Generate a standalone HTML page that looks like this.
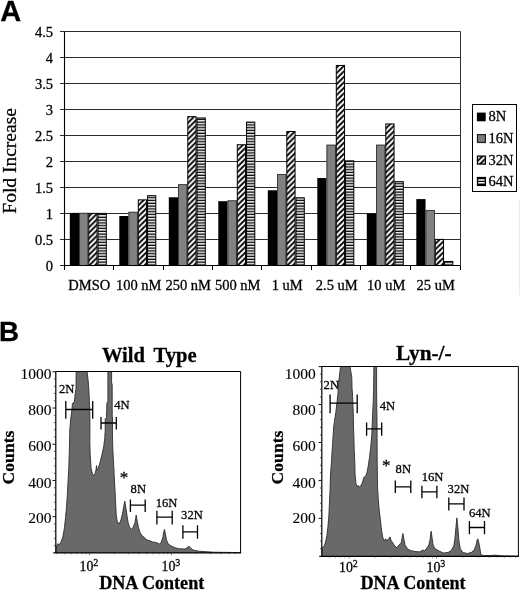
<!DOCTYPE html>
<html><head><meta charset="utf-8"><title>Figure</title>
<style>html,body{margin:0;padding:0;background:#fff}svg{display:block;will-change:transform} text{stroke:#000;stroke-width:0.28px} text.tl{stroke-width:0.12px}</style>
</head><body>
<svg width="520" height="592" viewBox="0 0 520 592">
<defs>
<pattern id="diag" patternUnits="userSpaceOnUse" width="5.5" height="5.5">
<rect width="5.5" height="5.5" fill="#000"/>
<path d="M-1,6.5 L6.5,-1 M-1,1 L1,-1 M4.5,6.5 L6.5,4.5" stroke="#fff" stroke-width="2.1"/>
</pattern>
<pattern id="hor" patternUnits="userSpaceOnUse" width="3" height="2.8" y="265.5" >
<rect width="3" height="2.8" fill="#000"/>
<rect y="0.05" width="3" height="1.45" fill="#fff"/>
</pattern>
</defs>
<rect width="520" height="592" fill="#fff"/>
<text x="0.3" y="21.3" font-family='"Liberation Sans", sans-serif' font-weight="bold" font-size="29">A</text>
<line x1="60.0" y1="265.50" x2="64.5" y2="265.50" stroke="#2e2e2e" stroke-width="1"/>
<text x="53" y="271.20" text-anchor="end" font-family='"Liberation Serif", serif' font-size="14.5">0</text>
<line x1="64.5" y1="239.50" x2="460.5" y2="239.50" stroke="#2e2e2e" stroke-width="1"/>
<line x1="60.0" y1="239.50" x2="64.5" y2="239.50" stroke="#2e2e2e" stroke-width="1"/>
<text x="53" y="245.20" text-anchor="end" font-family='"Liberation Serif", serif' font-size="14.5">0.5</text>
<line x1="64.5" y1="213.50" x2="460.5" y2="213.50" stroke="#2e2e2e" stroke-width="1"/>
<line x1="60.0" y1="213.50" x2="64.5" y2="213.50" stroke="#2e2e2e" stroke-width="1"/>
<text x="53" y="219.20" text-anchor="end" font-family='"Liberation Serif", serif' font-size="14.5">1</text>
<line x1="64.5" y1="187.50" x2="460.5" y2="187.50" stroke="#2e2e2e" stroke-width="1"/>
<line x1="60.0" y1="187.50" x2="64.5" y2="187.50" stroke="#2e2e2e" stroke-width="1"/>
<text x="53" y="193.20" text-anchor="end" font-family='"Liberation Serif", serif' font-size="14.5">1.5</text>
<line x1="64.5" y1="161.50" x2="460.5" y2="161.50" stroke="#2e2e2e" stroke-width="1"/>
<line x1="60.0" y1="161.50" x2="64.5" y2="161.50" stroke="#2e2e2e" stroke-width="1"/>
<text x="53" y="167.20" text-anchor="end" font-family='"Liberation Serif", serif' font-size="14.5">2</text>
<line x1="64.5" y1="135.50" x2="460.5" y2="135.50" stroke="#2e2e2e" stroke-width="1"/>
<line x1="60.0" y1="135.50" x2="64.5" y2="135.50" stroke="#2e2e2e" stroke-width="1"/>
<text x="53" y="141.20" text-anchor="end" font-family='"Liberation Serif", serif' font-size="14.5">2.5</text>
<line x1="64.5" y1="109.50" x2="460.5" y2="109.50" stroke="#2e2e2e" stroke-width="1"/>
<line x1="60.0" y1="109.50" x2="64.5" y2="109.50" stroke="#2e2e2e" stroke-width="1"/>
<text x="53" y="115.20" text-anchor="end" font-family='"Liberation Serif", serif' font-size="14.5">3</text>
<line x1="64.5" y1="83.50" x2="460.5" y2="83.50" stroke="#2e2e2e" stroke-width="1"/>
<line x1="60.0" y1="83.50" x2="64.5" y2="83.50" stroke="#2e2e2e" stroke-width="1"/>
<text x="53" y="89.20" text-anchor="end" font-family='"Liberation Serif", serif' font-size="14.5">3.5</text>
<line x1="64.5" y1="57.50" x2="460.5" y2="57.50" stroke="#2e2e2e" stroke-width="1"/>
<line x1="60.0" y1="57.50" x2="64.5" y2="57.50" stroke="#2e2e2e" stroke-width="1"/>
<text x="53" y="63.20" text-anchor="end" font-family='"Liberation Serif", serif' font-size="14.5">4</text>
<line x1="64.5" y1="31.50" x2="460.5" y2="31.50" stroke="#2e2e2e" stroke-width="1"/>
<line x1="60.0" y1="31.50" x2="64.5" y2="31.50" stroke="#2e2e2e" stroke-width="1"/>
<text x="53" y="37.20" text-anchor="end" font-family='"Liberation Serif", serif' font-size="14.5">4.5</text>
<line x1="460.5" y1="31.5" x2="460.5" y2="265.5" stroke="#333" stroke-width="1"/>
<rect x="69.80" y="212.88" width="9.25" height="52.62" fill="#000"/>
<rect x="79.05" y="212.88" width="9.25" height="52.62" fill="#818181"/>
<rect x="79.45" y="213.28" width="8.45" height="52.22" fill="none" stroke="#333" stroke-width="0.9"/>
<rect x="88.80" y="213.38" width="8.25" height="52.12" fill="url(#diag)" stroke="#000" stroke-width="1"/>
<rect x="98.05" y="213.38" width="8.25" height="52.12" fill="url(#hor)" stroke="#000" stroke-width="1"/>
<text x="89.25" y="290.4" text-anchor="middle" font-family='"Liberation Serif", serif' font-size="14.5">DMSO</text>
<rect x="119.30" y="216.00" width="9.25" height="49.50" fill="#000"/>
<rect x="128.55" y="211.84" width="9.25" height="53.66" fill="#818181"/>
<rect x="128.95" y="212.24" width="8.45" height="53.26" fill="none" stroke="#333" stroke-width="0.9"/>
<rect x="138.30" y="199.86" width="8.25" height="65.64" fill="url(#diag)" stroke="#000" stroke-width="1"/>
<rect x="147.55" y="195.70" width="8.25" height="69.80" fill="url(#hor)" stroke="#000" stroke-width="1"/>
<text x="138.75" y="290.4" text-anchor="middle" font-family='"Liberation Serif", serif' font-size="14.5">100 nM</text>
<rect x="168.80" y="197.28" width="9.25" height="68.22" fill="#000"/>
<rect x="178.05" y="184.28" width="9.25" height="81.22" fill="#818181"/>
<rect x="178.45" y="184.68" width="8.45" height="80.82" fill="none" stroke="#333" stroke-width="0.9"/>
<rect x="187.80" y="116.66" width="8.25" height="148.84" fill="url(#diag)" stroke="#000" stroke-width="1"/>
<rect x="197.05" y="117.96" width="8.25" height="147.54" fill="url(#hor)" stroke="#000" stroke-width="1"/>
<text x="188.25" y="290.4" text-anchor="middle" font-family='"Liberation Serif", serif' font-size="14.5">250 nM</text>
<rect x="218.30" y="201.18" width="9.25" height="64.32" fill="#000"/>
<rect x="227.55" y="200.40" width="9.25" height="65.10" fill="#818181"/>
<rect x="227.95" y="200.80" width="8.45" height="64.70" fill="none" stroke="#333" stroke-width="0.9"/>
<rect x="237.30" y="144.74" width="8.25" height="120.76" fill="url(#diag)" stroke="#000" stroke-width="1"/>
<rect x="246.55" y="122.12" width="8.25" height="143.38" fill="url(#hor)" stroke="#000" stroke-width="1"/>
<text x="237.75" y="290.4" text-anchor="middle" font-family='"Liberation Serif", serif' font-size="14.5">500 nM</text>
<rect x="267.80" y="190.26" width="9.25" height="75.24" fill="#000"/>
<rect x="277.05" y="174.14" width="9.25" height="91.36" fill="#818181"/>
<rect x="277.45" y="174.54" width="8.45" height="90.96" fill="none" stroke="#333" stroke-width="0.9"/>
<rect x="286.80" y="131.48" width="8.25" height="134.02" fill="url(#diag)" stroke="#000" stroke-width="1"/>
<rect x="296.05" y="197.78" width="8.25" height="67.72" fill="url(#hor)" stroke="#000" stroke-width="1"/>
<text x="287.25" y="290.4" text-anchor="middle" font-family='"Liberation Serif", serif' font-size="14.5">1 uM</text>
<rect x="317.30" y="178.04" width="9.25" height="87.46" fill="#000"/>
<rect x="326.55" y="144.76" width="9.25" height="120.74" fill="#818181"/>
<rect x="326.95" y="145.16" width="8.45" height="120.34" fill="none" stroke="#333" stroke-width="0.9"/>
<rect x="336.30" y="65.44" width="8.25" height="200.06" fill="url(#diag)" stroke="#000" stroke-width="1"/>
<rect x="345.55" y="160.86" width="8.25" height="104.64" fill="url(#hor)" stroke="#000" stroke-width="1"/>
<text x="336.75" y="290.4" text-anchor="middle" font-family='"Liberation Serif", serif' font-size="14.5">2.5 uM</text>
<rect x="366.80" y="213.40" width="9.25" height="52.10" fill="#000"/>
<rect x="376.05" y="144.76" width="9.25" height="120.74" fill="#818181"/>
<rect x="376.45" y="145.16" width="8.45" height="120.34" fill="none" stroke="#333" stroke-width="0.9"/>
<rect x="385.80" y="123.94" width="8.25" height="141.56" fill="url(#diag)" stroke="#000" stroke-width="1"/>
<rect x="395.05" y="181.66" width="8.25" height="83.84" fill="url(#hor)" stroke="#000" stroke-width="1"/>
<text x="386.25" y="290.4" text-anchor="middle" font-family='"Liberation Serif", serif' font-size="14.5">10 uM</text>
<rect x="416.30" y="199.10" width="9.25" height="66.40" fill="#000"/>
<rect x="425.55" y="210.02" width="9.25" height="55.48" fill="#818181"/>
<rect x="425.95" y="210.42" width="8.45" height="55.08" fill="none" stroke="#333" stroke-width="0.9"/>
<rect x="435.30" y="239.38" width="8.25" height="26.12" fill="url(#diag)" stroke="#000" stroke-width="1"/>
<rect x="444.55" y="261.48" width="8.25" height="4.02" fill="url(#hor)" stroke="#000" stroke-width="1"/>
<text x="435.75" y="290.4" text-anchor="middle" font-family='"Liberation Serif", serif' font-size="14.5">25 uM</text>
<line x1="64.5" y1="31.5" x2="64.5" y2="270.0" stroke="#000" stroke-width="1.1"/>
<line x1="64.5" y1="265.5" x2="460.5" y2="265.5" stroke="#000" stroke-width="1.1"/>
<line x1="64.50" y1="265.5" x2="64.50" y2="270.0" stroke="#000" stroke-width="1"/>
<line x1="113.50" y1="265.5" x2="113.50" y2="270.0" stroke="#000" stroke-width="1"/>
<line x1="163.50" y1="265.5" x2="163.50" y2="270.0" stroke="#000" stroke-width="1"/>
<line x1="212.50" y1="265.5" x2="212.50" y2="270.0" stroke="#000" stroke-width="1"/>
<line x1="261.50" y1="265.5" x2="261.50" y2="270.0" stroke="#000" stroke-width="1"/>
<line x1="311.50" y1="265.5" x2="311.50" y2="270.0" stroke="#000" stroke-width="1"/>
<line x1="360.50" y1="265.5" x2="360.50" y2="270.0" stroke="#000" stroke-width="1"/>
<line x1="410.50" y1="265.5" x2="410.50" y2="270.0" stroke="#000" stroke-width="1"/>
<line x1="460.50" y1="265.5" x2="460.50" y2="270.0" stroke="#000" stroke-width="1"/>
<text transform="translate(15.8,160.9) rotate(-90)" text-anchor="middle" font-family='"Liberation Serif", serif' font-size="19.5">Fold Increase</text>
<rect x="472.5" y="104.5" width="44" height="87" fill="#fff" stroke="#000" stroke-width="1"/>
<pattern id="diagL" patternUnits="userSpaceOnUse" width="5.5" height="5.5" patternTransform="translate(3.4,0)"><rect width="5.5" height="5.5" fill="#000"/><path d="M-1,6.5 L6.5,-1 M-1,1 L1,-1 M4.5,6.5 L6.5,4.5" stroke="#fff" stroke-width="2.1"/></pattern>
<rect x="476.9" y="112.60" width="8.8" height="8.7" fill="#000"/>
<text x="488.5" y="121.30" font-family='"Liberation Serif", serif' font-size="14.5">8N</text>
<rect x="477.5" y="134.60" width="7.9" height="7.9" fill="#7c7c7c" stroke="#1c1c1c" stroke-width="1.2"/>
<text x="488.5" y="142.95" font-family='"Liberation Serif", serif' font-size="14.5">16N</text>
<rect x="477.5" y="156.15" width="7.9" height="7.9" fill="url(#diagL)" stroke="#000" stroke-width="1.3"/>
<text x="488.5" y="164.50" font-family='"Liberation Serif", serif' font-size="14.5">32N</text>
<rect x="477.5" y="177.55" width="7.9" height="7.9" fill="#000" stroke="#000" stroke-width="1.3"/>
<path d="M478.2,179.95 H484.7 M478.2,182.85 H484.7" stroke="#fff" stroke-width="1.5"/>
<text x="488.5" y="185.90" font-family='"Liberation Serif", serif' font-size="14.5">64N</text>
<text x="-1" y="341" font-family='"Liberation Sans", sans-serif' font-weight="bold" font-size="27.8">B</text>
<clipPath id="c55"><rect x="55.8" y="371.5" width="184.8" height="181.39999999999998"/></clipPath>
<path d="M55.8,554.0 L55.8,548.8 L57.6,543.8 L58.9,544.4 L60.1,543.8 L61.4,541.2 L63.0,536.2 L64.5,527.5 L65.5,517.5 L66.4,508.8 L67.2,497.5 L67.8,486.2 L68.8,467.5 L69.4,448.8 L69.8,430.0 L70.6,420.0 L71.9,410.0 L72.5,403.3 L74.4,401.9 L75.0,395.0 L76.0,388.8 L76.2,365.0 L87.2,365.0 L87.2,372.5 L88.1,380.0 L88.8,388.8 L89.4,401.2 L89.8,411.2 L89.9,430.0 L89.8,442.5 L90.2,455.0 L91.0,467.5 L92.2,473.1 L93.5,475.6 L95.0,473.8 L96.0,470.0 L96.5,465.5 L97.2,470.0 L98.1,468.8 L100.0,462.5 L101.9,455.0 L103.8,446.2 L104.8,437.5 L105.2,430.0 L105.2,418.8 L106.5,417.5 L106.9,403.0 L107.9,401.2 L107.9,365.0 L111.6,365.0 L111.6,382.5 L112.2,385.0 L112.2,416.0 L112.6,419.0 L112.4,430.0 L112.6,442.5 L113.1,455.0 L113.8,467.5 L114.4,480.0 L115.0,490.0 L115.6,502.5 L116.2,515.0 L117.2,521.2 L118.8,524.0 L120.6,521.2 L122.5,513.8 L123.8,506.2 L124.8,501.2 L125.6,506.2 L126.9,515.0 L128.1,522.5 L129.4,526.9 L131.2,529.4 L133.1,527.5 L135.0,522.5 L136.2,515.0 L137.2,521.2 L138.5,527.5 L140.0,532.5 L141.9,535.6 L144.4,537.5 L146.9,540.0 L149.4,540.6 L152.5,541.9 L156.2,542.5 L159.4,544.0 L161.2,542.5 L162.8,537.5 L163.8,531.9 L164.5,529.4 L165.4,533.8 L166.5,540.0 L168.1,543.8 L170.6,545.6 L174.3,547.5 L178.7,548.7 L184.4,549.0 L187.0,548.0 L188.8,546.1 L190.5,548.0 L193.1,550.0 L198.8,551.2 L213.3,552.2 L240.4,552.6 L240.4,554.0 Z" fill="#696969" stroke="#2c2c2c" stroke-width="0.9" stroke-linejoin="round" clip-path="url(#c55)"/>
<path d="M55.8,371.5 H240.6 V552.9" fill="none" stroke="#000" stroke-width="1"/>
<path d="M55.8,371.0 V552.9 " fill="none" stroke="#000" stroke-width="1.2"/>
<path d="M53.3,552.9 H241.1" fill="none" stroke="#000" stroke-width="1.2"/>
<line x1="53.9" y1="545.66" x2="55.8" y2="545.66" stroke="#333" stroke-width="0.8"/>
<line x1="53.9" y1="538.41" x2="55.8" y2="538.41" stroke="#333" stroke-width="0.8"/>
<line x1="53.9" y1="531.17" x2="55.8" y2="531.17" stroke="#333" stroke-width="0.8"/>
<line x1="53.9" y1="523.92" x2="55.8" y2="523.92" stroke="#333" stroke-width="0.8"/>
<line x1="52.5" y1="516.68" x2="55.8" y2="516.68" stroke="#111" stroke-width="1"/>
<text class="tl" x="51.6" y="523.20" text-anchor="end" font-family='"Liberation Serif", serif' font-size="15.5">200</text>
<line x1="53.9" y1="509.44" x2="55.8" y2="509.44" stroke="#333" stroke-width="0.8"/>
<line x1="53.9" y1="502.19" x2="55.8" y2="502.19" stroke="#333" stroke-width="0.8"/>
<line x1="53.9" y1="494.95" x2="55.8" y2="494.95" stroke="#333" stroke-width="0.8"/>
<line x1="53.9" y1="487.70" x2="55.8" y2="487.70" stroke="#333" stroke-width="0.8"/>
<line x1="52.5" y1="480.46" x2="55.8" y2="480.46" stroke="#111" stroke-width="1"/>
<text class="tl" x="51.6" y="488.00" text-anchor="end" font-family='"Liberation Serif", serif' font-size="15.5">400</text>
<line x1="53.9" y1="473.22" x2="55.8" y2="473.22" stroke="#333" stroke-width="0.8"/>
<line x1="53.9" y1="465.97" x2="55.8" y2="465.97" stroke="#333" stroke-width="0.8"/>
<line x1="53.9" y1="458.73" x2="55.8" y2="458.73" stroke="#333" stroke-width="0.8"/>
<line x1="53.9" y1="451.48" x2="55.8" y2="451.48" stroke="#333" stroke-width="0.8"/>
<line x1="52.5" y1="444.24" x2="55.8" y2="444.24" stroke="#111" stroke-width="1"/>
<text class="tl" x="51.6" y="451.40" text-anchor="end" font-family='"Liberation Serif", serif' font-size="15.5">600</text>
<line x1="53.9" y1="437.00" x2="55.8" y2="437.00" stroke="#333" stroke-width="0.8"/>
<line x1="53.9" y1="429.75" x2="55.8" y2="429.75" stroke="#333" stroke-width="0.8"/>
<line x1="53.9" y1="422.51" x2="55.8" y2="422.51" stroke="#333" stroke-width="0.8"/>
<line x1="53.9" y1="415.26" x2="55.8" y2="415.26" stroke="#333" stroke-width="0.8"/>
<line x1="52.5" y1="408.02" x2="55.8" y2="408.02" stroke="#111" stroke-width="1"/>
<text class="tl" x="51.6" y="414.60" text-anchor="end" font-family='"Liberation Serif", serif' font-size="15.5">800</text>
<line x1="53.9" y1="400.78" x2="55.8" y2="400.78" stroke="#333" stroke-width="0.8"/>
<line x1="53.9" y1="393.53" x2="55.8" y2="393.53" stroke="#333" stroke-width="0.8"/>
<line x1="53.9" y1="386.29" x2="55.8" y2="386.29" stroke="#333" stroke-width="0.8"/>
<line x1="53.9" y1="379.04" x2="55.8" y2="379.04" stroke="#333" stroke-width="0.8"/>
<line x1="52.5" y1="371.80" x2="55.8" y2="371.80" stroke="#111" stroke-width="1"/>
<text class="tl" x="51.6" y="378.90" text-anchor="end" font-family='"Liberation Serif", serif' font-size="15.5">1000</text>
<line x1="56.87" y1="552.9" x2="56.87" y2="554.3" stroke="#333" stroke-width="0.6"/>
<line x1="64.82" y1="552.9" x2="64.82" y2="554.3" stroke="#333" stroke-width="0.6"/>
<line x1="71.31" y1="552.9" x2="71.31" y2="554.3" stroke="#333" stroke-width="0.6"/>
<line x1="76.80" y1="552.9" x2="76.80" y2="554.3" stroke="#333" stroke-width="0.6"/>
<line x1="81.55" y1="552.9" x2="81.55" y2="554.3" stroke="#333" stroke-width="0.6"/>
<line x1="85.75" y1="552.9" x2="85.75" y2="554.3" stroke="#333" stroke-width="0.6"/>
<line x1="89.50" y1="552.9" x2="89.50" y2="555.1" stroke="#333" stroke-width="0.6"/>
<line x1="114.18" y1="552.9" x2="114.18" y2="554.3" stroke="#333" stroke-width="0.6"/>
<line x1="128.62" y1="552.9" x2="128.62" y2="554.3" stroke="#333" stroke-width="0.6"/>
<line x1="138.87" y1="552.9" x2="138.87" y2="554.3" stroke="#333" stroke-width="0.6"/>
<line x1="146.82" y1="552.9" x2="146.82" y2="554.3" stroke="#333" stroke-width="0.6"/>
<line x1="153.31" y1="552.9" x2="153.31" y2="554.3" stroke="#333" stroke-width="0.6"/>
<line x1="158.80" y1="552.9" x2="158.80" y2="554.3" stroke="#333" stroke-width="0.6"/>
<line x1="163.55" y1="552.9" x2="163.55" y2="554.3" stroke="#333" stroke-width="0.6"/>
<line x1="167.75" y1="552.9" x2="167.75" y2="554.3" stroke="#333" stroke-width="0.6"/>
<line x1="171.50" y1="552.9" x2="171.50" y2="555.1" stroke="#333" stroke-width="0.6"/>
<line x1="196.18" y1="552.9" x2="196.18" y2="554.3" stroke="#333" stroke-width="0.6"/>
<line x1="210.62" y1="552.9" x2="210.62" y2="554.3" stroke="#333" stroke-width="0.6"/>
<line x1="220.87" y1="552.9" x2="220.87" y2="554.3" stroke="#333" stroke-width="0.6"/>
<line x1="228.82" y1="552.9" x2="228.82" y2="554.3" stroke="#333" stroke-width="0.6"/>
<line x1="235.31" y1="552.9" x2="235.31" y2="554.3" stroke="#333" stroke-width="0.6"/>
<text x="79.50" y="571.20" font-family='"Liberation Serif", serif' font-size="13.8">10<tspan dy="-5.4" font-size="10">2</tspan></text>
<text x="161.50" y="571.20" font-family='"Liberation Serif", serif' font-size="13.8">10<tspan dy="-5.4" font-size="10">3</tspan></text>
<text x="149.3" y="361.5" text-anchor="middle" font-family='"Liberation Serif", serif' font-weight="bold" font-size="20.6" word-spacing="3.8">Wild Type</text>
<text transform="translate(14.2,457.5) rotate(-90)" text-anchor="middle" font-family='"Liberation Serif", serif' font-weight="bold" font-size="17.6">Counts</text>
<text x="151.7" y="589" text-anchor="middle" font-family='"Liberation Serif", serif' font-weight="bold" font-size="18.1">DNA Content</text>
<path d="M65.8,409.5 H92.7 M65.8,401 V418.8 M92.7,401 V418.8" stroke="#000" stroke-width="1.3" fill="none"/>
<text x="59.00" y="392.70" font-family='"Liberation Serif", serif' font-size="12.6">2N</text>
<path d="M101,423 H116.3 M101,417 V429.4 M116.3,417 V429.4" stroke="#000" stroke-width="1.3" fill="none"/>
<text x="114.20" y="408.70" font-family='"Liberation Serif", serif' font-size="12.6">4N</text>
<path d="M130.4,505.2 H145.2 M130.4,499.4 V512 M145.2,499.4 V512" stroke="#000" stroke-width="1.3" fill="none"/>
<text x="130.60" y="493.10" font-family='"Liberation Serif", serif' font-size="12.6">8N</text>
<path d="M156.9,517.1 H172.2 M156.9,510.8 V524.5 M172.2,510.8 V524.5" stroke="#000" stroke-width="1.3" fill="none"/>
<text x="155.70" y="506.90" font-family='"Liberation Serif", serif' font-size="12.6">16N</text>
<path d="M182.9,531.9 H197.5 M182.9,525.2 V538.7 M197.5,525.2 V538.7" stroke="#000" stroke-width="1.3" fill="none"/>
<text x="181.10" y="518.60" font-family='"Liberation Serif", serif' font-size="12.6">32N</text>
<text x="124" y="483" text-anchor="middle" font-family='"Liberation Serif", serif' font-size="17">*</text>
<clipPath id="c321"><rect x="321.8" y="366.5" width="196.59999999999997" height="189.79999999999995"/></clipPath>
<path d="M321.8,557.0 L321.8,548.2 L322.4,547.7 L324.3,545.8 L325.6,542.0 L326.9,535.7 L327.9,526.8 L328.8,516.7 L329.4,504.0 L330.0,491.3 L330.5,475.0 L331.4,462.5 L332.2,450.0 L333.0,437.5 L333.7,427.0 L334.5,421.2 L335.8,412.5 L337.0,402.5 L338.0,392.5 L338.5,383.8 L339.5,375.0 L340.5,366.9 L340.5,360.0 L350.1,360.0 L350.1,366.9 L351.0,372.5 L351.8,377.5 L352.0,387.5 L352.6,396.2 L353.0,406.2 L353.4,417.5 L353.5,427.0 L353.9,437.5 L354.2,450.0 L354.8,462.5 L355.1,475.0 L356.0,483.8 L357.6,486.9 L358.2,485.6 L359.5,486.9 L361.4,485.0 L362.6,481.9 L363.9,477.5 L365.8,475.6 L367.0,472.5 L368.2,466.2 L369.5,457.5 L370.8,446.2 L371.8,435.0 L372.1,427.0 L372.6,415.0 L373.2,402.5 L373.6,390.0 L373.9,366.9 L373.9,360.0 L376.6,360.0 L376.6,390.0 L376.8,408.8 L377.0,421.2 L377.1,437.5 L377.2,462.5 L377.4,475.0 L377.6,488.0 L378.3,500.0 L379.2,510.0 L380.4,520.0 L381.5,530.0 L382.8,537.5 L384.4,541.2 L385.6,538.8 L386.9,540.6 L388.8,538.8 L390.0,536.9 L391.2,540.6 L393.8,544.4 L396.9,548.1 L398.8,545.0 L401.2,543.1 L402.2,537.5 L402.9,533.5 L403.8,538.8 L405.0,545.0 L407.5,548.8 L410.6,550.6 L415.0,551.5 L420.0,551.9 L422.5,550.0 L424.4,550.6 L426.9,548.1 L428.8,545.0 L430.0,540.0 L430.9,532.5 L431.2,531.2 L432.0,537.5 L433.1,545.0 L435.0,548.8 L438.3,550.6 L443.2,553.0 L448.0,552.5 L451.3,550.6 L453.8,545.7 L454.9,539.1 L455.9,527.7 L456.9,517.9 L457.9,527.7 L458.9,540.8 L460.3,548.9 L462.8,552.5 L467.7,553.5 L471.8,552.2 L474.2,549.8 L475.9,545.7 L477.2,539.9 L477.8,538.8 L478.8,542.4 L480.0,548.9 L480.8,554.7 L484.0,555.6 L492.2,555.4 L495.5,555.1 L500.4,555.8 L518.2,556.2 L518.2,557.0 Z" fill="#696969" stroke="#2c2c2c" stroke-width="0.9" stroke-linejoin="round" clip-path="url(#c321)"/>
<path d="M321.8,366.5 H518.4 V556.3" fill="none" stroke="#000" stroke-width="1"/>
<path d="M321.8,366.0 V556.3 " fill="none" stroke="#000" stroke-width="1.2"/>
<path d="M319.3,556.3 H518.9" fill="none" stroke="#000" stroke-width="1.2"/>
<line x1="319.90000000000003" y1="548.71" x2="321.8" y2="548.71" stroke="#333" stroke-width="0.8"/>
<line x1="319.90000000000003" y1="541.12" x2="321.8" y2="541.12" stroke="#333" stroke-width="0.8"/>
<line x1="319.90000000000003" y1="533.54" x2="321.8" y2="533.54" stroke="#333" stroke-width="0.8"/>
<line x1="319.90000000000003" y1="525.95" x2="321.8" y2="525.95" stroke="#333" stroke-width="0.8"/>
<line x1="318.5" y1="518.36" x2="321.8" y2="518.36" stroke="#111" stroke-width="1"/>
<text class="tl" x="315.8" y="523.20" text-anchor="end" font-family='"Liberation Serif", serif' font-size="15.5">200</text>
<line x1="319.90000000000003" y1="510.77" x2="321.8" y2="510.77" stroke="#333" stroke-width="0.8"/>
<line x1="319.90000000000003" y1="503.18" x2="321.8" y2="503.18" stroke="#333" stroke-width="0.8"/>
<line x1="319.90000000000003" y1="495.60" x2="321.8" y2="495.60" stroke="#333" stroke-width="0.8"/>
<line x1="319.90000000000003" y1="488.01" x2="321.8" y2="488.01" stroke="#333" stroke-width="0.8"/>
<line x1="318.5" y1="480.42" x2="321.8" y2="480.42" stroke="#111" stroke-width="1"/>
<text class="tl" x="315.8" y="488.00" text-anchor="end" font-family='"Liberation Serif", serif' font-size="15.5">400</text>
<line x1="319.90000000000003" y1="472.83" x2="321.8" y2="472.83" stroke="#333" stroke-width="0.8"/>
<line x1="319.90000000000003" y1="465.24" x2="321.8" y2="465.24" stroke="#333" stroke-width="0.8"/>
<line x1="319.90000000000003" y1="457.66" x2="321.8" y2="457.66" stroke="#333" stroke-width="0.8"/>
<line x1="319.90000000000003" y1="450.07" x2="321.8" y2="450.07" stroke="#333" stroke-width="0.8"/>
<line x1="318.5" y1="442.48" x2="321.8" y2="442.48" stroke="#111" stroke-width="1"/>
<text class="tl" x="315.8" y="451.40" text-anchor="end" font-family='"Liberation Serif", serif' font-size="15.5">600</text>
<line x1="319.90000000000003" y1="434.89" x2="321.8" y2="434.89" stroke="#333" stroke-width="0.8"/>
<line x1="319.90000000000003" y1="427.30" x2="321.8" y2="427.30" stroke="#333" stroke-width="0.8"/>
<line x1="319.90000000000003" y1="419.72" x2="321.8" y2="419.72" stroke="#333" stroke-width="0.8"/>
<line x1="319.90000000000003" y1="412.13" x2="321.8" y2="412.13" stroke="#333" stroke-width="0.8"/>
<line x1="318.5" y1="404.54" x2="321.8" y2="404.54" stroke="#111" stroke-width="1"/>
<text class="tl" x="315.8" y="414.60" text-anchor="end" font-family='"Liberation Serif", serif' font-size="15.5">800</text>
<line x1="319.90000000000003" y1="396.95" x2="321.8" y2="396.95" stroke="#333" stroke-width="0.8"/>
<line x1="319.90000000000003" y1="389.36" x2="321.8" y2="389.36" stroke="#333" stroke-width="0.8"/>
<line x1="319.90000000000003" y1="381.78" x2="321.8" y2="381.78" stroke="#333" stroke-width="0.8"/>
<line x1="319.90000000000003" y1="374.19" x2="321.8" y2="374.19" stroke="#333" stroke-width="0.8"/>
<line x1="318.5" y1="366.60" x2="321.8" y2="366.60" stroke="#111" stroke-width="1"/>
<text class="tl" x="315.8" y="378.90" text-anchor="end" font-family='"Liberation Serif", serif' font-size="15.5">1000</text>
<line x1="329.59" y1="556.3" x2="329.59" y2="557.6999999999999" stroke="#333" stroke-width="0.6"/>
<line x1="335.45" y1="556.3" x2="335.45" y2="557.6999999999999" stroke="#333" stroke-width="0.6"/>
<line x1="340.52" y1="556.3" x2="340.52" y2="557.6999999999999" stroke="#333" stroke-width="0.6"/>
<line x1="345.00" y1="556.3" x2="345.00" y2="557.6999999999999" stroke="#333" stroke-width="0.6"/>
<line x1="349.00" y1="556.3" x2="349.00" y2="558.5" stroke="#333" stroke-width="0.6"/>
<line x1="375.34" y1="556.3" x2="375.34" y2="557.6999999999999" stroke="#333" stroke-width="0.6"/>
<line x1="390.75" y1="556.3" x2="390.75" y2="557.6999999999999" stroke="#333" stroke-width="0.6"/>
<line x1="401.68" y1="556.3" x2="401.68" y2="557.6999999999999" stroke="#333" stroke-width="0.6"/>
<line x1="410.16" y1="556.3" x2="410.16" y2="557.6999999999999" stroke="#333" stroke-width="0.6"/>
<line x1="417.09" y1="556.3" x2="417.09" y2="557.6999999999999" stroke="#333" stroke-width="0.6"/>
<line x1="422.95" y1="556.3" x2="422.95" y2="557.6999999999999" stroke="#333" stroke-width="0.6"/>
<line x1="428.02" y1="556.3" x2="428.02" y2="557.6999999999999" stroke="#333" stroke-width="0.6"/>
<line x1="432.50" y1="556.3" x2="432.50" y2="557.6999999999999" stroke="#333" stroke-width="0.6"/>
<line x1="436.50" y1="556.3" x2="436.50" y2="558.5" stroke="#333" stroke-width="0.6"/>
<line x1="462.84" y1="556.3" x2="462.84" y2="557.6999999999999" stroke="#333" stroke-width="0.6"/>
<line x1="478.25" y1="556.3" x2="478.25" y2="557.6999999999999" stroke="#333" stroke-width="0.6"/>
<line x1="489.18" y1="556.3" x2="489.18" y2="557.6999999999999" stroke="#333" stroke-width="0.6"/>
<line x1="497.66" y1="556.3" x2="497.66" y2="557.6999999999999" stroke="#333" stroke-width="0.6"/>
<line x1="504.59" y1="556.3" x2="504.59" y2="557.6999999999999" stroke="#333" stroke-width="0.6"/>
<line x1="510.45" y1="556.3" x2="510.45" y2="557.6999999999999" stroke="#333" stroke-width="0.6"/>
<line x1="515.52" y1="556.3" x2="515.52" y2="557.6999999999999" stroke="#333" stroke-width="0.6"/>
<text x="339.00" y="572.40" font-family='"Liberation Serif", serif' font-size="13.8">10<tspan dy="-5.4" font-size="10">2</tspan></text>
<text x="426.50" y="572.40" font-family='"Liberation Serif", serif' font-size="13.8">10<tspan dy="-5.4" font-size="10">3</tspan></text>
<text x="423.8" y="359.6" text-anchor="middle" font-family='"Liberation Serif", serif' font-weight="bold" font-size="21.3" word-spacing="0">Lyn-/-</text>
<text transform="translate(282.5,457.5) rotate(-90)" text-anchor="middle" font-family='"Liberation Serif", serif' font-weight="bold" font-size="17.6">Counts</text>
<text x="413" y="589" text-anchor="middle" font-family='"Liberation Serif", serif' font-weight="bold" font-size="18.1">DNA Content</text>
<path d="M330.1,403.2 H357.2 M330.1,394.4 V413.2 M357.2,394.4 V413.2" stroke="#000" stroke-width="1.3" fill="none"/>
<text x="323.60" y="389.40" font-family='"Liberation Serif", serif' font-size="12.6">2N</text>
<path d="M366.6,428.9 H381.7 M366.6,422.6 V435.8 M381.7,422.6 V435.8" stroke="#000" stroke-width="1.3" fill="none"/>
<text x="379.80" y="410.40" font-family='"Liberation Serif", serif' font-size="12.6">4N</text>
<path d="M395.3,486.8 H410.8 M395.3,480.4 V493 M410.8,480.4 V493" stroke="#000" stroke-width="1.3" fill="none"/>
<text x="395.60" y="473.20" font-family='"Liberation Serif", serif' font-size="12.6">8N</text>
<path d="M421.9,491.9 H436.9 M421.9,485.7 V498.2 M436.9,485.7 V498.2" stroke="#000" stroke-width="1.3" fill="none"/>
<text x="421.70" y="480.80" font-family='"Liberation Serif", serif' font-size="12.6">16N</text>
<path d="M448.8,503.8 H464 M448.8,497.5 V510.5 M464,497.5 V510.5" stroke="#000" stroke-width="1.3" fill="none"/>
<text x="447.60" y="493.00" font-family='"Liberation Serif", serif' font-size="12.6">32N</text>
<path d="M469.4,527.5 H484.5 M469.4,521 V534.2 M484.5,521 V534.2" stroke="#000" stroke-width="1.3" fill="none"/>
<text x="468.90" y="517.20" font-family='"Liberation Serif", serif' font-size="12.6">64N</text>
<text x="386.2" y="471.2" text-anchor="middle" font-family='"Liberation Serif", serif' font-size="17">*</text>
<line x1="519.5" y1="200" x2="519.5" y2="295" stroke="#ebebeb" stroke-width="1"/>
</svg>
</body></html>
